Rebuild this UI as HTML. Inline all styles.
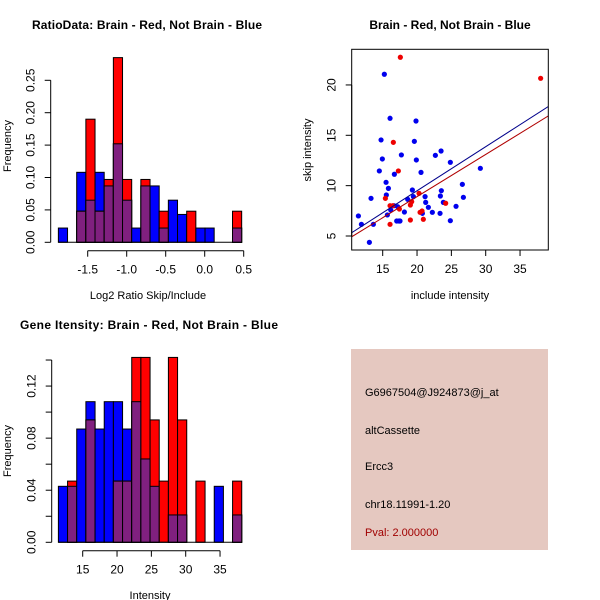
<!DOCTYPE html>
<html><head><meta charset="utf-8"><style>
html,body{margin:0;padding:0;background:#fff;}
svg{display:block;font-family:"Liberation Sans",sans-serif;}
</style></head><body>
<svg id="c" width="600" height="600" viewBox="0 0 600 600" xmlns="http://www.w3.org/2000/svg">
<rect x="0" y="0" width="600" height="600" fill="#fff"/>
<text x="147" y="29" font-size="12" font-weight="bold" text-anchor="middle" textLength="230">RatioData: Brain - Red, Not Brain - Blue</text>
<text x="450" y="29" font-size="12" font-weight="bold" text-anchor="middle">Brain - Red, Not Brain - Blue</text>
<text x="149" y="329" font-size="12" font-weight="bold" text-anchor="middle" textLength="258">Gene Itensity: Brain - Red, Not Brain - Blue</text>
<g id="tl"></g><g id="tr"></g><g id="bl"></g>
<rect x="351" y="349" width="197" height="201" fill="#e5c8c0"/>
<g font-size="11">
<text x="365" y="396">G6967504@J924873@j_at</text>
<text x="365" y="434">altCassette</text>
<text x="365" y="470">Ercc3</text>
<text x="365" y="508">chr18.11991-1.20</text>
<text x="365" y="536" fill="#a00000">Pval: 2.000000</text>
</g>
</svg>
<script>
// Ratio histogram data
const ratioStart = -1.876, ratioWidth = 0.1175;
const ratioBlue = [0.022,0,0.108,0.065,0.108,0.087,0.152,0.065,0.022,0.087,0.087,0.022,0.065,0.043,0,0.022,0.022,0,0,0.022];
const ratioRed  = [0,0,0.048,0.19,0.048,0.097,0.285,0.097,0,0.097,0,0.048,0,0,0.048,0,0,0,0,0.048];
const ratioXTicks = [-1.5,-1.0,-0.5,0.0,0.5];
const ratioYTicks = [0,0.05,0.10,0.15,0.20,0.25];
// Intensity histogram data
const intStart = 11.46, intWidth = 1.335;
const intBlue = [0.043,0.043,0.087,0.108,0.087,0.108,0.108,0.087,0.108,0.064,0.043,0,0.021,0.021,0,0,0,0.043,0,0.021];
const intRed  = [0,0.047,0,0.094,0,0,0.047,0.047,0.142,0.142,0.094,0.047,0.142,0.094,0,0.047,0,0,0,0.047];
const intXTicks = [15,20,25,30,35];
const intYTicks = [0,0.02,0.04,0.06,0.08,0.10,0.12,0.14];
const intYLabels = ["0.00","","0.04","","0.08","","0.12",""];
// Scatter data
const blueX = [11.46,11.9,13.06,13.64,13.3,14.51,14.76,14.95,15.24,15.49,15.53,15.83,15.68,16.07,16.17,16.7,16.65,17.04,17.38,17.52,17.18,17.72,18.16,18.64,19.32,19.47,19.61,19.85,19.9,20.58,20.78,21.17,21.26,21.65,22.23,22.67,23.5,23.4,23.54,23.35,23.83,24.85,24.85,25.68,26.6,26.75,29.22];
const blueY = [6.99,6.16,4.37,6.16,8.74,11.46,14.54,12.65,21.06,10.33,9.07,9.73,7.09,16.69,7.58,11.13,8.01,6.49,6.49,6.49,7.91,13.05,7.38,8.64,9.57,8.91,14.4,16.42,12.55,11.32,7.25,8.91,8.34,7.85,7.35,13.01,13.44,8.97,9.5,7.25,8.34,12.32,6.52,7.95,10.13,8.84,11.72];
const redX = [17.57,16.55,17.28,15.39,16.07,16.46,17.43,16.07,19.03,19.03,19.22,20.29,20.44,20.73,20.92,24.17,38.0];
const redY = [22.75,14.3,11.46,8.74,8.01,8.01,7.68,6.16,6.59,8.08,8.41,9.24,7.35,7.48,6.66,8.25,20.66];
const blueFit = [0.74,0.4376]; // intercept, slope
const redFit = [0.53,0.419];
const scXTicks = [15,20,25,30,35];
const scYTicks = [5,10,15,20];

const NS="http://www.w3.org/2000/svg";
function mk(parent,tag,attrs){const e=document.createElementNS(NS,tag);for(const k in attrs)e.setAttribute(k,attrs[k]);parent.appendChild(e);return e;}
function fmt(v,d){return v.toFixed(d);}

function hist(g,start,width,blue,red,sx,sy,y0,prefix){
  for(let i=0;i<blue.length;i++){
    const x0=sx(start+i*width), x1=sx(start+(i+1)*width);
    const b=blue[i], r=red[i], m=Math.min(b,r);
    if(b>0){const e=mk(g,'rect',{x:x0,y:sy(b),width:x1-x0,height:y0-sy(b),fill:'#0000ff',stroke:'#000','stroke-width':1});
      
      }
    if(r>0){const e=mk(g,'rect',{x:x0,y:sy(r),width:x1-x0,height:y0-sy(r),fill:'#ff0000',stroke:'#000','stroke-width':1});
      
      }
    if(m>0){const e=mk(g,'rect',{x:x0,y:sy(m),width:x1-x0,height:y0-sy(m),fill:'#80207f',stroke:'#000','stroke-width':1});
      
      }
  }
  const base=mk(g,'line',{x1:sx(start),x2:sx(start+blue.length*width),y1:y0,y2:y0,stroke:'#000'});
  
  
}
function xAxis(g,ticks,sx,y,labels,prefix){
  mk(g,'line',{x1:sx(ticks[0]),x2:sx(ticks[ticks.length-1]),y1:y,y2:y,stroke:'#000'});
  ticks.forEach((t,i)=>{mk(g,'line',{x1:sx(t),x2:sx(t),y1:y,y2:y+6,stroke:'#000'});
    const e=mk(g,'text',{x:sx(t),y:y+23,'font-size':12,'text-anchor':'middle'});e.textContent=labels[i];
    
    });
}
function yAxis(g,ticks,sy,x,labels,prefix){
  mk(g,'line',{x1:x,x2:x,y1:sy(ticks[0]),y2:sy(ticks[ticks.length-1]),stroke:'#000'});
  ticks.forEach((t,i)=>{mk(g,'line',{x1:x,x2:x-6,y1:sy(t),y2:sy(t),stroke:'#000'});
    if(labels[i]){const e=mk(g,'text',{x:x-16,y:sy(t),'font-size':12,'text-anchor':'middle',transform:`rotate(-90 ${x-16} ${sy(t)})`});e.textContent=labels[i];
    
    }});
}
function label(g,x,y,txt,rot,name){const e=mk(g,'text',{x:x,y:y,'font-size':11,'text-anchor':'middle'});if(rot)e.setAttribute('transform',`rotate(-90 ${x} ${y})`);e.textContent=txt;
  
  }

// Top-left
{const g=document.getElementById('tl');
 const sx=v=>87.7+(v+1.5)*78, sy=v=>242.3-v*648;
 hist(g,ratioStart,ratioWidth,ratioBlue,ratioRed,sx,sy,242.3,'ratio');
 xAxis(g,ratioXTicks,sx,250.7,ratioXTicks.map(v=>fmt(v,1)),'ratio');
 yAxis(g,ratioYTicks,sy,50.7,ratioYTicks.map(v=>fmt(v,2)),'ratio');
 label(g,148,299,'Log2 Ratio Skip/Include',false,'ratio-x-axis-title');
 label(g,11,146,'Frequency',true,'ratio-y-axis-title');}
// Bottom-left
{const g=document.getElementById('bl');
 const sx=v=>82.7+(v-15)*6.867, sy=v=>542.3-v*1302;
 hist(g,intStart,intWidth,intBlue,intRed,sx,sy,542.3,'intensity');
 xAxis(g,intXTicks,sx,550.7,intXTicks.map(String),'intensity');
 yAxis(g,intYTicks,sy,51.7,intYLabels,'intensity');
 label(g,150,599,'Intensity',false,'intensity-x-axis-title');
 label(g,11,451,'Frequency',true,'intensity-y-axis-title');}
// Scatter
{const g=document.getElementById('tr');
 const sx=v=>382.7+(v-15)*6.867, sy=v=>236-(v-5)*10.07;
 const L=351.7,R=548.3,T=49.3,B=250;
 const cp=mk(g,'clipPath',{id:'clip'});mk(cp,'rect',{x:L,y:T,width:R-L,height:B-T});
 const ln=(f,col,name)=>{const xa=(L-382.7)/6.867+15, xb=(R-382.7)/6.867+15;
   const e=mk(g,'line',{x1:L,x2:R,y1:sy(f[0]+f[1]*xa),y2:sy(f[0]+f[1]*xb),stroke:col,'stroke-width':1,'clip-path':'url(#clip)'});
   
   };
 blueX.forEach((x,i)=>{const e=mk(g,'circle',{cx:sx(x),cy:sy(blueY[i]),r:2.6,fill:'#0000ee'});
   
   });
 redX.forEach((x,i)=>{const e=mk(g,'circle',{cx:sx(x),cy:sy(redY[i]),r:2.6,fill:'#ee0000'});
   
   });
 ln(blueFit,'#00008b','blue-fit-line');ln(redFit,'#b00000','red-fit-line');
 const fr=mk(g,'rect',{x:L,y:T,width:R-L,height:B-T,fill:'none',stroke:'#000'});
 
 
 xAxis(g,scXTicks,sx,B,scXTicks.map(String),'scatter');
 yAxis(g,scYTicks,sy,L,scYTicks.map(String),'scatter');
 label(g,450,299,'include intensity',false,'scatter-x-axis-title');
 label(g,311,150,'skip intensity',true,'scatter-y-axis-title');}
</script>
</body></html>
